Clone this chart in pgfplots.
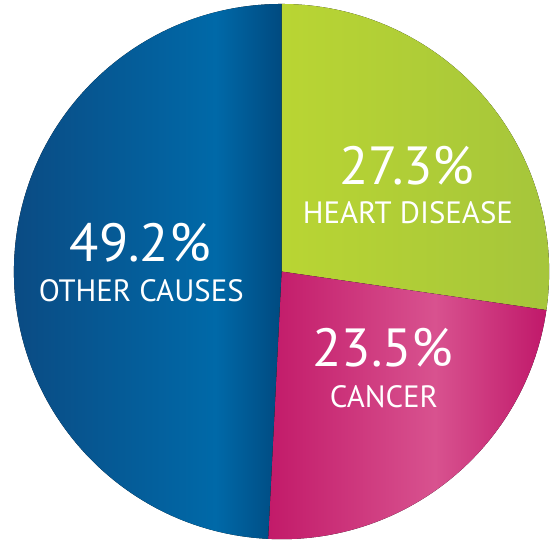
\documentclass[border=0pt]{standalone}
\usepackage{fontspec}
\setmainfont{PT Sans}
\usepackage{pgfplots}
\pgfplotsset{compat=1.18}
\definecolor{blueA}{HTML}{0B4A82}
\definecolor{blueB}{HTML}{0069A8}
\definecolor{blueC}{HTML}{004A80}
\definecolor{greenA}{HTML}{B9D533}
\definecolor{greenB}{HTML}{A5C53B}
\definecolor{magA}{HTML}{C21A69}
\definecolor{magB}{HTML}{D8528F}
\definecolor{magC}{HTML}{C0186A}
% shadings: path bounding box maps to 25bp..75bp
\pgfdeclarehorizontalshading{blueshade}{100bp}{color(0bp)=(blueA); color(25bp)=(blueA); color(63bp)=(blueB); color(75bp)=(blueC); color(100bp)=(blueC)}
\pgfdeclarehorizontalshading{greenshade}{100bp}{color(0bp)=(greenA); color(25bp)=(greenA); color(75bp)=(greenB); color(100bp)=(greenB)}
\pgfdeclarehorizontalshading{magshade}{100bp}{color(0bp)=(magA); color(25bp)=(magA); color(55bp)=(magB); color(75bp)=(magC); color(100bp)=(magC)}
% data (percent)
\def\vHeart{27.3}
\def\vCancer{23.5}
\def\vOther{49.2}
\begin{document}
\begin{tikzpicture}
\begin{axis}[
  scale only axis, width=555pt, height=543pt,
  xmin=0, xmax=555, ymin=0, ymax=543,
  hide axis, clip=false]
\pgfmathsetmacro\aA{90}
\pgfmathsetmacro\aB{\aA-\vHeart*3.6}
\pgfmathsetmacro\aC{\aB-\vCancer*3.6}
\pgfmathsetmacro\aD{\aC-\vOther*3.6}
\path (axis cs:0,0) rectangle (axis cs:555,543);
\fill[shading=greenshade] (axis cs:283,270) -- ++(\aA:269pt) arc[start angle=\aA, end angle=\aB, radius=269pt] -- cycle;
\fill[shading=magshade] (axis cs:283,270) -- ++(\aB:269pt) arc[start angle=\aB, end angle=\aC, radius=269pt] -- cycle;
\fill[shading=blueshade] (axis cs:283,270) -- ++(\aC:269pt) arc[start angle=\aC, end angle=\aD, radius=269pt] -- cycle;
\node[white, anchor=base, inner sep=0pt, font=\fontsize{54}{54}\selectfont] at (axis cs:409,358) {27.3\%};
\node[white, anchor=base, inner sep=0pt, font=\fontsize{31}{31}\selectfont] at (axis cs:410,318) {HEART DISEASE};
\node[white, anchor=base, inner sep=0pt, font=\fontsize{54}{54}\selectfont] at (axis cs:141,280) {49.2\%};
\node[white, anchor=base, inner sep=0pt, font=\fontsize{31}{31}\selectfont] at (axis cs:142,240) {OTHER CAUSES};
\node[white, anchor=base, inner sep=0pt, font=\fontsize{54}{54}\selectfont] at (axis cs:385,175) {23.5\%};
\node[white, anchor=base, inner sep=0pt, font=\fontsize{31}{31}\selectfont] at (axis cs:386,133) {CANCER};
\end{axis}
\end{tikzpicture}
\end{document}
